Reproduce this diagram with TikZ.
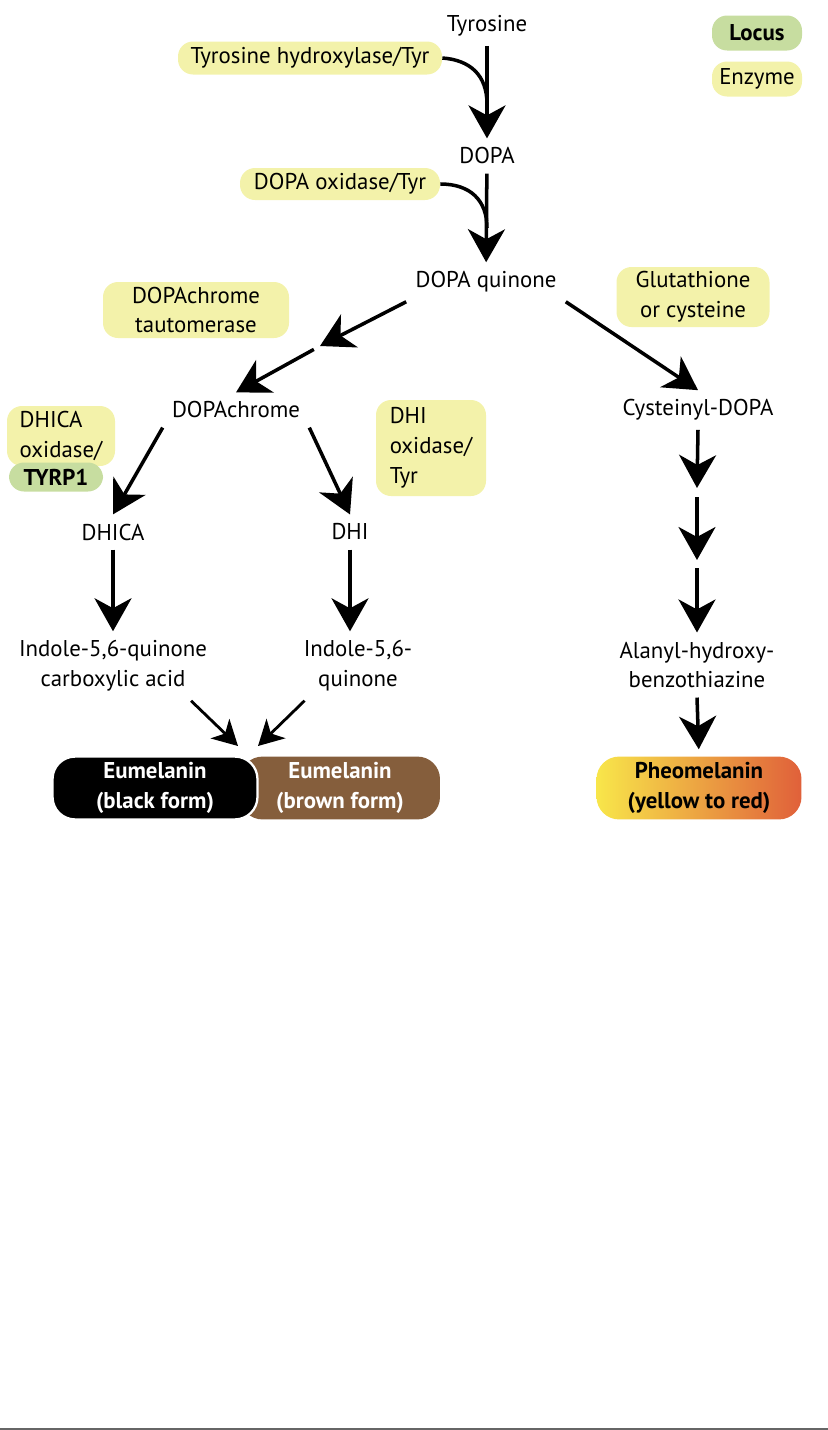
\documentclass[tikz,border=0pt]{standalone}
\usepackage{fontspec}
\setmainfont{PT Sans}
\usepackage{xcolor}
\definecolor{enzYellow}{HTML}{F3F2AA}
\definecolor{locGreen}{HTML}{C7DDA0}
\definecolor{euBrown}{HTML}{855E3C}
\definecolor{phYellow}{HTML}{F8E64A}
\definecolor{phOrange}{HTML}{ECA03F}
\definecolor{phRed}{HTML}{E0603A}
\usetikzlibrary{arrows.meta}

\begin{document}
\begin{tikzpicture}[x=0.02cm, y=-0.02cm,
    font=\fontsize{13}{17}\selectfont,
    >={Stealth[length=0.66cm, width=0.74cm, inset=0.2cm]},
    chem/.style={align=center, inner sep=0.18cm},
    enz/.style 2 args={fill=enzYellow, rounded corners=0.3cm, inner sep=0pt,
      minimum width=#1*0.02cm, minimum height=#2*0.02cm},
    locus/.style 2 args={enz={#1}{#2}, fill=locGreen, font=\fontsize{13}{17}\selectfont\bfseries},
    melanin/.style={rounded corners=0.45cm, minimum width=4.1cm, minimum height=1.22cm,
      align=center, font=\fontsize{13}{17}\selectfont\bfseries},
    flow/.style={->, line width=2pt},
    spur/.style={line width=2pt},
    feed/.style={-{Stealth[length=0.5cm, width=0.54cm, inset=0.14cm]}, line width=1.6pt}]
  \useasboundingbox (0,0) rectangle (828,1430);

  % legend
  \node[locus={90}{35}] (leglocus) at (757,33) {Locus};
  \node[enz={90}{35}] (legenz) at (757,79) {Enzyme};

  % main chain
  \node[chem] (tyr) at (487,26) {Tyrosine};
  \node[chem] (dopa) at (487,156) {DOPA};
  \node[chem] (dq) at (486,282) {DOPA quinone};
  \node[chem] (dc) at (236,410) {DOPAchrome};
  \node[chem] (cys) at (698,410) {Cysteinyl-DOPA};
  \node[chem] (dhica) at (113,532) {DHICA};
  \node[chem] (dhi) at (350,532) {DHI};
  \node[chem] (iqca) at (113,666) {Indole-5,6-quinone\\carboxylic acid};
  \node[chem] (iq) at (358,666) {Indole-5,6-\\quinone};
  \node[chem] (ahb) at (697,665) {Alanyl-hydroxy-\\benzothiazine};

  % enzymes and loci
  \node[enz={264}{33}] (th) at (310,58) {Tyrosine hydroxylase/Tyr};
  \node[enz={200}{32}] (dox) at (340,184) {DOPA oxidase/Tyr};
  \node[enz={186}{56}, align=center] (dct) at (196,310) {DOPAchrome\\tautomerase};
  \node[enz={153}{60}, align=center] (glu) at (693,297) {Glutathione\\or cysteine};
  \node[enz={108}{60}, align=left] (dhicaox) at (61,436) {DHICA\\oxidase/};
  \node[locus={94}{29}] (tyrp1) at (56,477) {TYRP1};
  \node[enz={110}{96}, align=left] (dhiox) at (431,448) {DHI\\oxidase/\\Tyr};

  % end products
  \node[melanin, fill=euBrown, text=white, minimum width=4.0cm] (eubrown) at (340,788) {Eumelanin\\(brown form)};
  \node[melanin, fill=black, draw=white, line width=1.3pt, text=white] (eublack) at (155,788) {Eumelanin\\(black form)};
  \node[melanin, left color=phYellow, middle color=phOrange, right color=phRed] (pheo) at (699,788) {Pheomelanin\\(yellow to red)};

  \coordinate (j1) at (487,104);
  \coordinate (j2) at (487,228);
  \coordinate (mid) at (320,346);
  \coordinate (s1) at (697,488);
  \coordinate (s2) at (697,560);
  \coordinate (eul) at (238,746);
  \coordinate (eur) at (258,746);

  \draw[flow] (tyr) -- (dopa);
  \draw[spur] (th.east) .. controls (470,60) and (487,75) .. (j1);
  \draw[flow] (dopa) -- (dq);
  \draw[spur] (dox.east) .. controls (470,184) and (487,200) .. (j2);
  \draw[flow] (dq.south west) -- (mid);
  \draw[flow, shorten <=0.14cm] (mid) -- (dc.north);
  \draw[flow] (dq.south east) -- (cys.north);
  \draw[flow] (dc.south west) -- (dhica.north);
  \draw[flow] (dc.south east) -- (dhi.north);
  \draw[flow] (dhica) -- (iqca);
  \draw[flow] (dhi.south) -- (dhi.south |- iq.north);
  \draw[flow] (cys.south) -- (s1);
  \draw[flow, shorten <=0.18cm] (s1) -- (s2);
  \draw[flow, shorten <=0.16cm] (s2) -- (ahb.north);
  \draw[flow, shorten >=0.14cm] (ahb.south) -- (pheo.north);
  \draw[feed] (iqca.-24) -- (eul);
  \draw[feed] (iq.-147) -- (eur);

  \draw[black!60, line width=0.04cm] (0,1429) -- (828,1429);
\end{tikzpicture}
\end{document}
